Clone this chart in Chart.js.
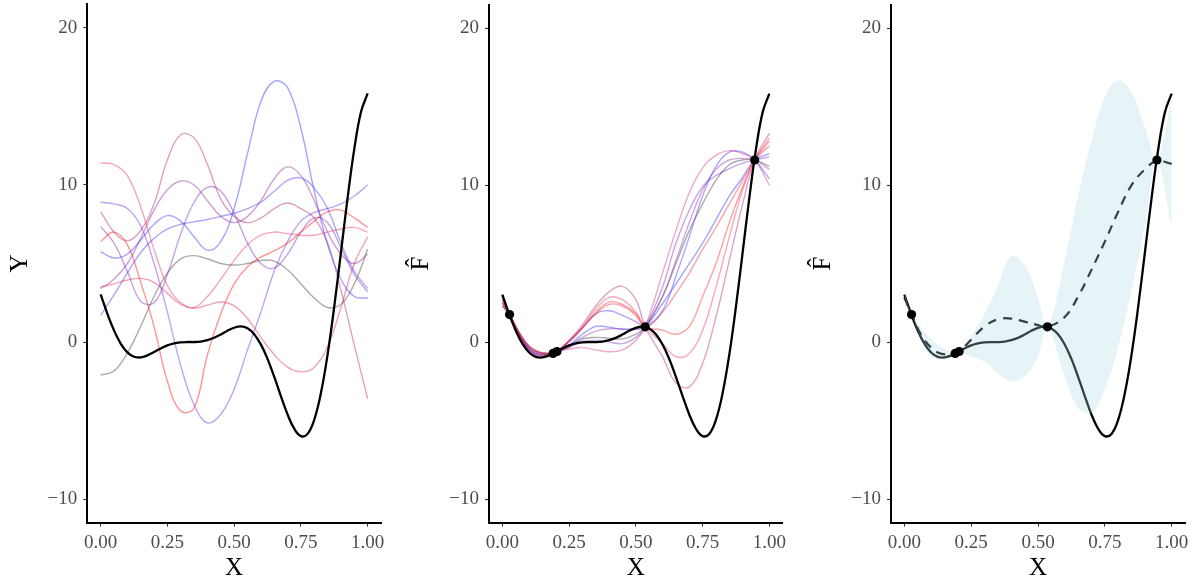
<!DOCTYPE html>
<html>
<head>
<meta charset="utf-8">
<script src="https://cdn.jsdelivr.net/npm/chart.js@4.4.1/dist/chart.umd.min.js"></script>
<style>
  body { margin: 0; background: #fff; width: 1196px; height: 581px; overflow: hidden; position: relative; }
  canvas { position: absolute; top: 0; }
</style>
</head>
<body>
<canvas id="p1" width="400" height="581" style="left:0px"></canvas>
<canvas id="p2" width="400" height="581" style="left:400px"></canvas>
<canvas id="p3" width="396" height="581" style="left:800px"></canvas>
<script>
// axis ticks
const xTicks = [0, 0.25, 0.5, 0.75, 1];
const yTicks = [-10, 0, 10, 20];

// true function (black curve)
const truthX = [0, 0.025, 0.05, 0.075, 0.1, 0.125, 0.15, 0.175, 0.2, 0.225, 0.25, 0.275, 0.3, 0.325, 0.35, 0.375, 0.4, 0.425, 0.45, 0.475, 0.5,
  0.525, 0.55, 0.575, 0.6, 0.625, 0.65, 0.675, 0.7, 0.725, 0.75, 0.775, 0.8, 0.825, 0.85, 0.875, 0.9, 0.925, 0.95, 0.975, 1];
const truthY = [3.03, 1.81, 0.74, -0.10, -0.66, -0.94, -0.98, -0.85, -0.64, -0.41, -0.21, -0.08, -0.02, 0.00, 0.00, 0.03, 0.12, 0.27, 0.48, 0.72, 0.91,
  0.99, 0.87, 0.50, -0.15, -1.07, -2.21, -3.44, -4.61, -5.52, -5.99, -5.85, -4.95, -3.25, -0.80, 2.27, 5.71, 9.19, 12.30, 14.65, 15.83];

// panel 1: prior samples
const priorX = [0, 0.05, 0.1, 0.15, 0.2, 0.25, 0.3, 0.35, 0.4, 0.45, 0.5, 0.55, 0.6, 0.65, 0.7, 0.75, 0.8, 0.85, 0.9, 0.95, 1];
const priorBlue   = [5.75, 5.35, 5.6, 6.5, 7.5, 8.05, 7.7, 6.7, 5.85, 6.4, 8.5, 12.0, 15.3, 16.6, 16.2, 13.6, 9.6, 6.2, 4.0, 2.9, 2.8];
const priorBlue2  = [1.7, 3.0, 4.4, 5.7, 6.6, 7.2, 7.5, 7.65, 7.8, 8.0, 8.2, 8.5, 8.9, 9.6, 10.3, 10.45, 9.8, 8.5, 6.3, 4.5, 3.4];
const priorRed    = [6.4, 7.0, 6.2, 3.8, 1.0, -2.5, -4.4, -4.2, -0.8, 1.8, 3.7, 4.8, 5.4, 5.8, 6.3, 7.0, 7.7, 8.3, 8.4, 7.9, 7.3];
const priorPink   = [3.5, 3.7, 3.95, 4.05, 3.8, 3.1, 2.4, 2.15, 2.35, 2.55, 2.3, 1.5, 0.3, -0.8, -1.6, -1.9, -1.6, -0.3, 2.2, 5.0, 6.7];
const priorRose   = [11.4, 11.3, 10.6, 8.6, 5.9, 3.6, 2.5, 2.2, 2.9, 4.0, 5.2, 6.2, 6.8, 7.0, 6.9, 6.8, 6.8, 7.0, 7.2, 7.3, 7.0];
const priorViolet = [8.9, 8.8, 8.5, 7.4, 5.0, 1.9, -1.5, -4.0, -5.15, -4.6, -3.0, -0.5, 1.9, 4.5, 6.4, 7.7, 8.25, 8.5, 8.8, 9.3, 10.0];
const priorPurple = [7.35, 6.3, 4.5, 2.6, 2.5, 4.3, 6.9, 8.9, 9.85, 9.6, 8.2, 6.3, 5.0, 4.7, 5.6, 7.0, 7.9, 7.6, 6.0, 4.3, 3.2];
const priorMauve  = [8.3, 7.0, 6.45, 7.1, 8.8, 11.6, 13.2, 13.0, 11.3, 9.1, 8.0, 7.6, 7.9, 8.5, 8.85, 8.5, 7.9, 6.3, 3.3, -0.2, -3.6];
const priorPlum   = [3.4, 4.0, 5.0, 6.6, 8.4, 9.7, 10.25, 10.0, 9.0, 8.0, 7.6, 8.0, 9.0, 10.4, 11.15, 10.6, 9.0, 7.0, 5.6, 5.0, 5.6];
const priorGrey   = [-2.1, -1.85, -0.7, 1.0, 2.9, 4.4, 5.3, 5.5, 5.3, 5.0, 4.9, 5.0, 5.2, 5.15, 4.6, 3.7, 2.8, 2.2, 2.4, 3.7, 5.9];

// observations
const obsX = [0.027, 0.19, 0.205, 0.535, 0.945];
const obsY = [1.75, -0.72, -0.6, 0.97, 11.6];

// panel 2: posterior samples
const postX = [0, 0.027, 0.06, 0.1, 0.14, 0.19, 0.205, 0.25, 0.3, 0.35, 0.4, 0.45, 0.5, 0.535, 0.6, 0.65, 0.7, 0.75, 0.8, 0.85, 0.9, 0.945, 1];
const post1  = [2.9, 1.75, 0.55, -0.45, -0.8, -0.72, -0.6, 0.1, 1.1, 2.3, 3.2, 3.55, 2.7, 0.97, -0.93, -2.6, -2.85, -1.36, 1.6, 5.2, 8.8, 11.6, 13.3];
const post2  = [2.5, 1.75, 0.65, -0.35, -0.7, -0.72, -0.6, 0.1, 1.0, 2.1, 2.85, 2.7, 1.9, 0.97, -0.1, -0.93, -0.72, 0.76, 3.5, 6.7, 9.7, 11.6, 13.0];
const post3  = [2.3, 1.75, 0.7, -0.25, -0.65, -0.72, -0.6, 0.05, 0.9, 1.9, 2.55, 2.4, 1.8, 0.97, 0.76, 0.5, 0.98, 2.9, 5.0, 7.6, 9.9, 11.6, 12.8];
const post4  = [2.7, 1.75, 0.5, -0.55, -0.9, -0.72, -0.6, 0.05, 0.9, 1.8, 2.4, 2.3, 1.7, 0.97, 1.9, 3.1, 4.4, 5.9, 7.3, 8.8, 10.3, 11.6, 12.5];
const post5  = [2.9, 1.75, 0.55, -0.45, -0.8, -0.72, -0.6, 0.0, 0.9, 1.8, 2.0, 1.7, 1.3, 0.97, 2.0, 4.2, 6.7, 9.3, 11.2, 12.1, 12.1, 11.6, 10.4];
const post6  = [2.5, 1.75, 0.65, -0.35, -0.7, -0.72, -0.6, -0.2, 0.5, 1.0, 0.95, 0.8, 0.85, 0.97, 2.46, 3.7, 5.0, 6.3, 7.8, 9.3, 10.5, 11.6, 12.0];
const post7  = [2.7, 1.75, 0.5, -0.55, -0.9, -0.72, -0.6, -0.25, 0.3, 0.7, 0.85, 0.85, 0.8, 0.97, 2.9, 5.2, 7.6, 9.7, 11.0, 11.6, 11.7, 11.6, 11.0];
const post8  = [2.3, 1.75, 0.7, -0.25, -0.65, -0.72, -0.6, -0.3, 0.2, 0.3, 0.25, 0.2, 0.5, 0.97, 2.9, 5.0, 7.1, 8.8, 10.3, 11.3, 11.6, 11.6, 11.2];
const post9  = [2.9, 1.75, 0.55, -0.45, -0.8, -0.72, -0.6, -0.35, 0.05, 0.1, 0.0, -0.1, 0.3, 0.97, 3.5, 6.3, 8.4, 9.9, 10.6, 11.05, 11.4, 11.6, 11.8];
const post10 = [2.5, 1.75, 0.65, -0.35, -0.7, -0.72, -0.6, -0.45, -0.35, -0.5, -0.62, -0.5, 0.1, 0.97, 4.4, 7.1, 9.5, 11.1, 11.9, 12.2, 12.0, 11.6, 10.0];

// panel 3: posterior mean and band
const meanY = [2.85, 1.75, 0.55, -0.35, -0.75, -0.72, -0.6, 0.15, 1.0, 1.45, 1.5, 1.3, 1.08, 0.97, 1.6, 2.9, 4.6, 6.4, 8.3, 10.0, 11.0, 11.55, 11.35];
const bandLow  = [2.5, 1.7, 0.2, -0.9, -1.1, -0.75, -0.62, -0.93, -1.25, -2.0, -2.5, -2.2, -0.9, 0.95, -2.2, -4.2, -4.5, -3.0, -0.3, 3.3, 7.4, 11.5, 7.35];
const bandHigh = [3.3, 1.8, 1.0, 0.2, -0.3, -0.7, -0.57, 0.4, 1.8, 3.6, 5.45, 4.9, 2.8, 1.0, 5.2, 9.3, 12.8, 15.6, 16.7, 15.9, 13.7, 11.65, 15.5];

const pts = (xs, ys) => xs.map((x, i) => ({ x: x, y: ys[i] }));

Chart.defaults.font.family = "'Liberation Serif', 'Times New Roman', serif";
Chart.defaults.animation = false;
Chart.defaults.events = [];
Chart.defaults.plugins.legend.display = false;
Chart.defaults.plugins.tooltip.enabled = false;

function curve(xs, ys, color, width, order) {
  return { data: pts(xs, ys), borderColor: color, borderWidth: width, pointRadius: 0, tension: 0.4, fill: false, order: order };
}
function dots(order) {
  return { data: pts(obsX, obsY), showLine: false, pointRadius: 4.6, pointBackgroundColor: '#000', pointBorderWidth: 0, order: order };
}
// keep the plot area where the layout padding says, labels may overhang
function noPad(s) { s.paddingLeft = 0; s.paddingRight = 0; s.paddingTop = 0; s.paddingBottom = 0; }

function makeChart(id, datasets, yTitle, yWidth, titlePad, padRight) {
  return new Chart(document.getElementById(id), {
    type: 'line',
    data: { datasets: datasets },
    options: {
      responsive: false,
      devicePixelRatio: 1,
      layout: { padding: { top: 4.4, right: padRight, left: 0, bottom: 0 } },
      scales: {
        x: {
          type: 'linear', min: -0.05, max: 1.05,
          afterBuildTicks: s => { s.ticks = xTicks.map(v => ({ value: v })); },
          afterFit: s => { s.height = 58.4; noPad(s); },
          grid: { drawOnChartArea: false, drawTicks: true, tickLength: 4, tickColor: '#333', tickWidth: 1.1 },
          border: { display: true, color: '#000', width: 2 },
          ticks: { color: '#4d4d4d', font: { size: 19 }, padding: 5, maxRotation: 0, autoSkip: false,
                   callback: v => Number(v).toFixed(2) },
          title: { display: true, text: 'X', color: '#000', font: { size: 25, lineHeight: 1 }, padding: 0 }
        },
        y: {
          min: -11.5, max: 21.5,
          afterBuildTicks: s => { s.ticks = yTicks.map(v => ({ value: v })); },
          afterFit: s => { s.width = yWidth; noPad(s); },
          grid: { drawOnChartArea: false, drawTicks: true, tickLength: 4, tickColor: '#333', tickWidth: 1.1 },
          border: { display: true, color: '#000', width: 2 },
          ticks: { color: '#4d4d4d', font: { size: 19 }, padding: 6, callback: v => (v < 0 ? '\u2212' + Math.abs(v) : String(v)) },
          title: { display: true, text: yTitle, color: '#000', font: { size: 25, lineHeight: 1 }, padding: { top: titlePad, bottom: 0 } }
        }
      }
    }
  });
}

const a = 0.42;
const w = 1.4;
makeChart('p1', [
  curve(truthX, truthY, '#000', 2.3, 0),
  curve(priorX, priorBlue,   `rgba(40,40,255,${a})`, w, 1),
  curve(priorX, priorBlue2,  `rgba(70,40,240,${a})`, w, 1),
  curve(priorX, priorRed,    `rgba(255,0,0,${a})`, w, 1),
  curve(priorX, priorPink,   `rgba(225,30,80,${a})`, w, 1),
  curve(priorX, priorRose,   `rgba(235,40,90,${a})`, w, 1),
  curve(priorX, priorViolet, `rgba(100,40,220,${a})`, w, 1),
  curve(priorX, priorPurple, `rgba(120,30,180,${a})`, w, 1),
  curve(priorX, priorMauve,  `rgba(175,30,110,${a})`, w, 1),
  curve(priorX, priorPlum,   `rgba(140,30,150,${a})`, w, 1),
  curve(priorX, priorGrey,   'rgba(0,0,0,0.33)', w, 1)
], 'Y', 87.3, 7.5, 19);

makeChart('p2', [
  dots(0),
  curve(truthX, truthY, '#000', 2.3, 1),
  curve(postX, post1,  `rgba(170,40,130,${a})`, w, 2),
  curve(postX, post2,  `rgba(240,50,90,${a})`, w, 2),
  curve(postX, post3,  `rgba(255,30,30,${a})`, w, 2),
  curve(postX, post4,  `rgba(230,40,70,${a})`, w, 2),
  curve(postX, post5,  `rgba(60,40,255,${a})`, w, 2),
  curve(postX, post6,  `rgba(40,40,255,${a})`, w, 2),
  curve(postX, post7,  `rgba(150,50,170,${a})`, w, 2),
  curve(postX, post8,  'rgba(0,0,0,0.33)', w, 2),
  curve(postX, post9,  `rgba(120,40,200,${a})`, w, 2),
  curve(postX, post10, `rgba(220,50,120,${a})`, w, 2)
], 'F\u0302', 89, 8.7, 17.3);

makeChart('p3', [
  dots(0),
  { data: pts(postX, bandHigh), borderColor: 'rgba(0,0,0,0)', borderWidth: 0, pointRadius: 0, tension: 0.4,
    fill: { target: 2 }, backgroundColor: 'rgba(173,216,230,0.3)', order: 1 },
  { data: pts(postX, bandLow), borderColor: 'rgba(0,0,0,0)', borderWidth: 0, pointRadius: 0, tension: 0.4, fill: false, order: 2 },
  Object.assign(curve(postX, meanY, '#000', 2.2, 3), { borderDash: [9, 7] }),
  curve(truthX, truthY, '#000', 2.3, 4)
], 'F\u0302', 91, 10.7, 11);
</script>
</body>
</html>
